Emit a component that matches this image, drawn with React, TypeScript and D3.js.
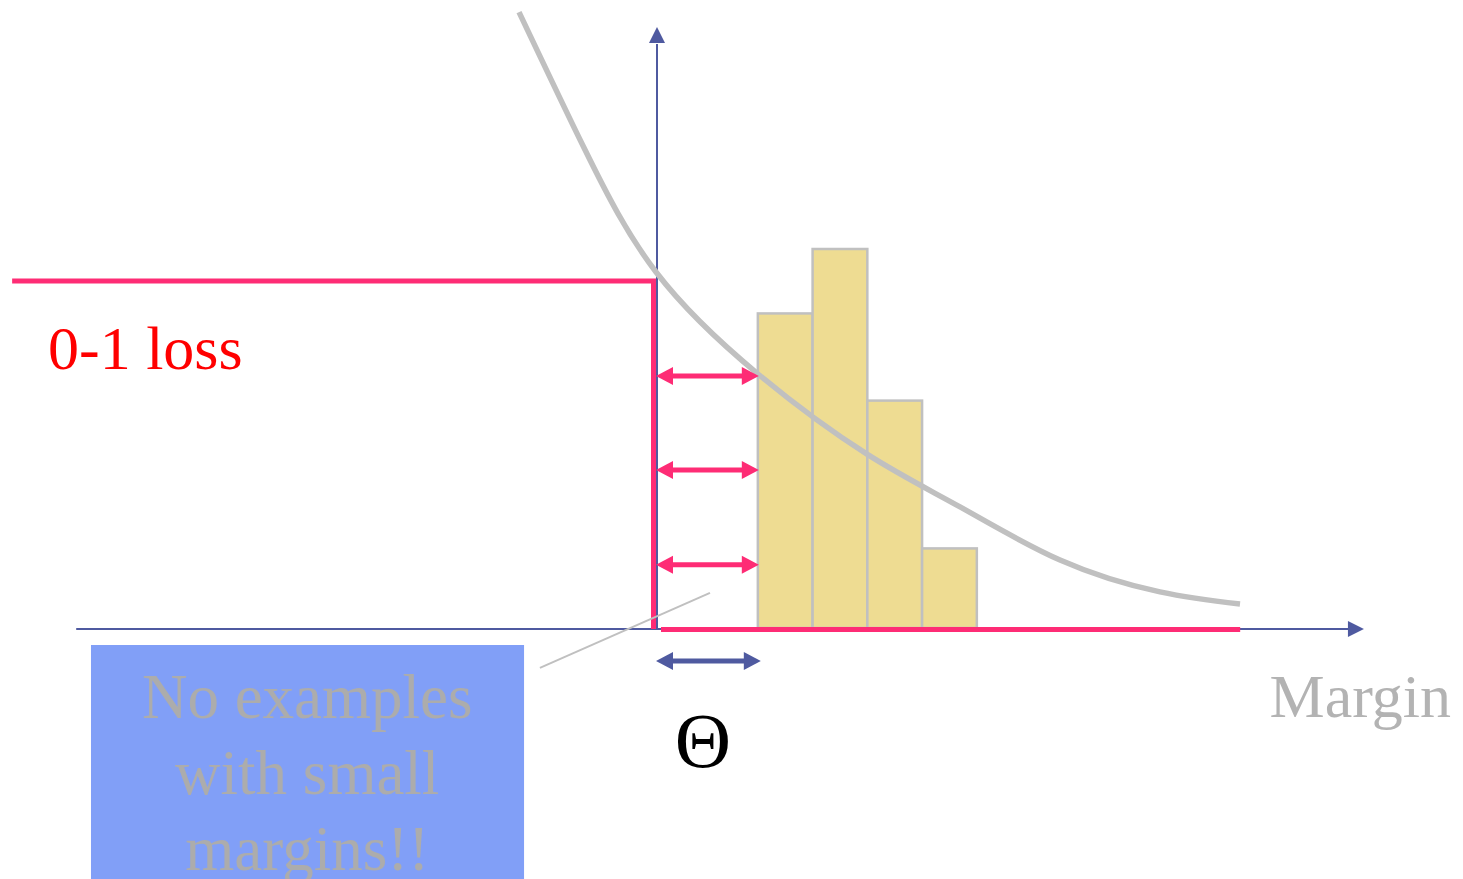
import React from "react";
import * as d3 from "d3";

// ---- data (margin units, loss units) ----
const binStarts = [1.86, 2.86, 3.86, 4.86];
const binCounts = [4.15, 5, 3, 1.05];
const binWidth = 1;
const theta = 1.86;
const lossLeft = -11.76;
const lossRight = 10.67;
const curvePoints: [number, number][] = [
  [-2.502, 1.775], [-1.297, 1.378], [0, 1.026], [1.863, 0.732], [3.854, 0.501],
  [5.553, 0.349], [7.379, 0.196], [9.205, 0.104], [10.667, 0.069],
];
const arrowLevels = [0.726, 0.455, 0.182];
const boxLines = ["No examples", "with small", "margins!!"];
const lossLabel = "0-1 loss";
const axisLabel = "Margin";
const thetaLabel = "Θ";

const W = 1463, H = 879;
const x = d3.scaleLinear().domain([0, 1]).range([656, 710.75]);
const y = d3.scaleLinear().domain([0, 1]).range([628, 281]);
const yc = d3.scaleLinear().domain([0, 5]).range([628, 249]);

const RED = "#fe2c75";
const BLUE = "#4f5aa0";
const GRAY = "#c0c0c0";
const SERIF = "Liberation Serif, Times New Roman, serif";

function DoubleArrow({ x1, x2, yy, color }: { x1: number; x2: number; yy: number; color: string }) {
  const hl = 17, hw = 9;
  return (
    <g fill={color}>
      <line x1={x1 + hl - 2} x2={x2 - hl + 2} y1={yy} y2={yy} stroke={color} strokeWidth={5} />
      <polygon points={`${x1},${yy} ${x1 + hl},${yy - hw} ${x1 + hl},${yy + hw}`} />
      <polygon points={`${x2},${yy} ${x2 - hl},${yy - hw} ${x2 - hl},${yy + hw}`} />
    </g>
  );
}

export default function App() {
  const line = d3.line<[number, number]>()
    .x((d) => x(d[0]))
    .y((d) => y(d[1]))
    .curve(d3.curveNatural);

  const x0 = x(0);
  const y0 = y(0);
  const axisLeft = x(-10.59);
  const axisRight = x(12.93);
  const boxX0 = x(-10.32), boxX1 = x(-2.41);
  const boxCx = x(-6.37);

  return (
    <svg width={W} height={H} style={{ position: "absolute", left: 0, top: 0, display: "block" }}>
      <rect width={W} height={H} fill="#ffffff" />
      {/* axes */}
      <line x1={axisLeft} x2={axisRight - 15} y1={y0 + 1} y2={y0 + 1} stroke={BLUE} strokeWidth={2} />
      <polygon fill={BLUE} points={`${axisRight},${y0 + 1} ${axisRight - 16},${y0 - 7} ${axisRight - 16},${y0 + 9}`} />
      <line x1={x0 + 1} x2={x0 + 1} y1={y0} y2={44} stroke={BLUE} strokeWidth={2} />
      <polygon fill={BLUE} points={`${x0 + 1},27 ${x0 - 7},43 ${x0 + 9},43`} />

      {/* histogram */}
      {binStarts.map((b, i) => (
        <rect key={i} x={x(b)} y={yc(binCounts[i])} width={x(b + binWidth) - x(b)} height={yc(0) - yc(binCounts[i])}
          fill="#eedc92" stroke={GRAY} strokeWidth={2.5} />
      ))}

      {/* 0-1 loss */}
      <path d={`M${x(lossLeft)},${y(1)} H${x0 - 2.5} V${y0 + 1}`} fill="none" stroke={RED} strokeWidth={5} />
      <line x1={x0 + 5} x2={x(lossRight)} y1={y0 + 1.5} y2={y0 + 1.5} stroke={RED} strokeWidth={5} />

      {/* exponential-like loss curve */}
      <path d={line(curvePoints) || ""} fill="none" stroke={GRAY} strokeWidth={5.5} />

      {/* margin arrows */}
      {arrowLevels.map((l, i) => (
        <DoubleArrow key={i} x1={x0} x2={x(theta) + 1} yy={y(l)} color={RED} />
      ))}
      <DoubleArrow x1={x0} x2={x(theta) + 3} yy={y(-0.095)} color={BLUE} />

      {/* pointer line */}
      <line x1={x(-2.12)} y1={y(-0.115)} x2={x(0.986)} y2={y(0.101)} stroke={GRAY} strokeWidth={2} />

      {/* box */}
      <rect x={boxX0} y={645} width={boxX1 - boxX0} height={H - 645} fill="#819ff7" />
      {boxLines.map((t, i) => (
        <text key={i} x={boxCx} y={718 + i * 76} textAnchor="middle" fontFamily={SERIF} fontSize={63} fill="#acacac">{t}</text>
      ))}

      {/* labels */}
      <text x={48} y={369} fontFamily={SERIF} fontSize={62} fill="#ff0000">{lossLabel}</text>
      <text x={1451} y={717} textAnchor="end" fontFamily={SERIF} fontSize={62} fill="#b3b3b3">{axisLabel}</text>
      <text x={703} y={767} textAnchor="middle" fontFamily={SERIF} fontSize={78} fill="#000000">{thetaLabel}</text>
    </svg>
  );
}
